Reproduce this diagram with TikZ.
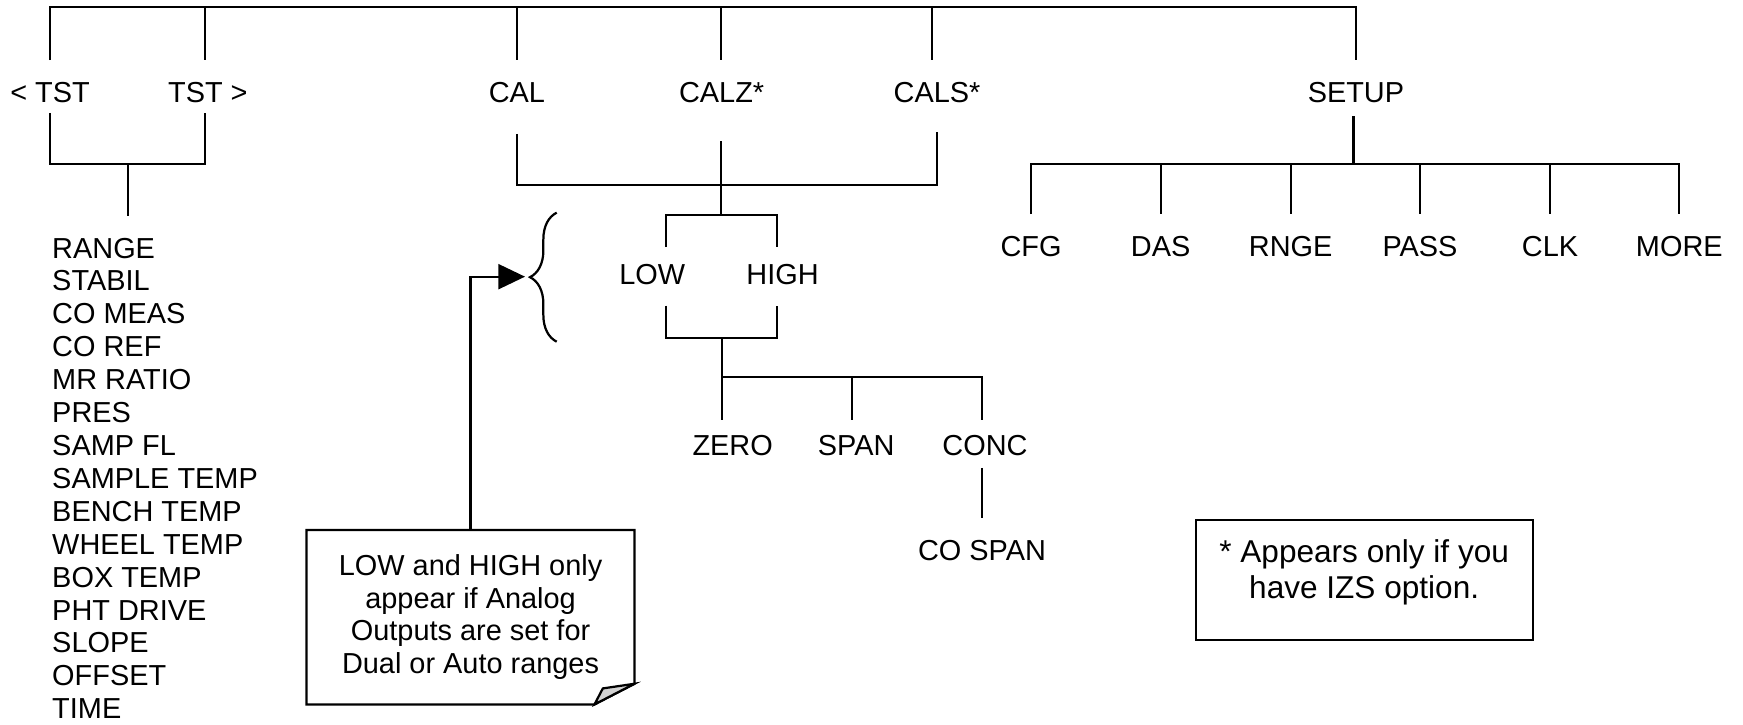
\documentclass[tikz,border=0pt]{standalone}
\usepackage{fontspec}
\setmainfont{Liberation Sans}
\usetikzlibrary{arrows.meta,decorations.pathreplacing}

\tikzset{
  lbl/.style={font=\fontsize{13}{15.6}\selectfont, text height=9.3pt, text depth=0pt,
    inner xsep=0pt, inner ysep=9.25pt},
  menulist/.style={font=\fontsize{13}{14.8}\selectfont, align=left, anchor=north west,
    inner xsep=0pt, inner ysep=9.25pt},
  notetext/.style={font=\fontsize{13}{14.7}\selectfont, align=center, inner sep=0pt},
  izstext/.style={font=\fontsize{14.2}{16.25}\selectfont, align=center, inner sep=0pt}
}

\begin{document}
\begin{tikzpicture}[x=0.5pt, y=-0.5pt, line width=1pt]
    \useasboundingbox (0,0) rectangle (1568,652);
    % first row
    \node[lbl] (ltst) at (45,83) {< TST};
    \node[lbl] (rtst) at (187,83) {TST >};
    \node[lbl] (cal) at (465,83) {CAL};
    \node[lbl] (calz) at (649.2,83) {CALZ*};
    \node[lbl] (cals) at (843,83) {CALS*};
    \node[lbl] (setup) at (1219.8,83) {SETUP};
    % top bus
    \coordinate (b1) at (45,6.6);
    \coordinate (b2) at (184.4,6.6);
    \coordinate (b3) at (464.8,6.6);
    \coordinate (b4) at (648.3,6.6);
    \coordinate (b5) at (838.1,6.6);
    \coordinate (b6) at (1219.9,6.6);
    \draw (b1 |- ltst.north) -- (b1) -- (b6) -- (b6 |- setup.north);
    \foreach \b/\n in {b2/rtst,b3/cal,b4/calz,b5/cals}
        \draw (\b) -- (\b |- \n.north);

    % TST branch
    \coordinate (tj) at (114.9,147.5);
    \draw ([yshift=5.1pt]b1 |- ltst.south) |- (tj) -| ([yshift=5.1pt]b2 |- rtst.south);
    \node[menulist] (tstlist) at (46,194.5) {RANGE\\STABIL\\CO MEAS\\CO REF\\MR RATIO\\PRES\\SAMP FL\\SAMPLE TEMP\\BENCH TEMP\\WHEEL TEMP\\BOX TEMP\\PHT DRIVE\\SLOPE\\OFFSET\\TIME};
    \draw (tj) -- (tj |- tstlist.north);

    % CAL branch
    \coordinate (cj) at (648.3,166.4);
    \coordinate (lj) at (648.3,193.4);
    \draw ([yshift=-4.3pt]cal.south) |- (cj) -| ([yshift=-3.4pt]cals.south);
    \draw ([yshift=-7.6pt]lj |- calz.south) -- (lj);
    \node[lbl] (low) at (586.7,246.2) {LOW};
    \node[lbl] (high) at (704,246.2) {HIGH};
    \coordinate (lwx) at (598.8,193.4);
    \coordinate (hgx) at (699.2,193.4);
    \draw ([yshift=-2.5pt]lwx |- low.north) -- (lwx) -- (hgx) -- ([yshift=-2.5pt]hgx |- high.north);
    \coordinate (lj2) at (649.2,303.8);
    \draw (lwx |- low.south) |- (lj2) -| (hgx |- high.south);
    % ZERO / SPAN / CONC
    \node[lbl] (zero) at (659.1,400.8) {ZERO};
    \node[lbl] (span) at (770.2,400.8) {SPAN};
    \node[lbl] (conc) at (886.1,400.8) {CONC};
    \node[lbl] (cospan) at (883.4,494.5) {CO SPAN};
    \coordinate (zj) at (649.2,339);
    \coordinate (sj) at (766.2,339);
    \coordinate (kj) at (883.1,339);
    \draw (lj2) -- ([yshift=-2.7pt]lj2 |- zero.north);
    \draw (zj) -- (kj) -- ([yshift=-2.7pt]kj |- conc.north);
    \draw (sj) -- ([yshift=-2.7pt]sj |- span.north);
    \draw ([yshift=4.4pt]kj |- conc.south) -- (kj |- cospan.north);

    % SETUP branch
    \coordinate (sb) at (1217.5,147.5);
    \draw ([yshift=3.6pt]sb |- setup.south) -- (sb);
    \foreach \x/\n/\t in {927.5/cfg/CFG, 1044.1/das/DAS, 1161.1/rnge/RNGE, 1277.4/pass/PASS, 1394.4/clk/CLK, 1510.7/more/MORE} {
        \coordinate (s\n) at (\x,147.5);
        \node[lbl] (\n) at (\x,221.5) {\t};
    }
    \draw (scfg |- cfg.north) -- (scfg) -- (smore) -- (smore |- more.north);
    \foreach \n in {das,rnge,pass,clk}
        \draw (s\n) -- (s\n |- \n.north);

    % brace and note
    \draw[decorate, decoration={brace, amplitude=12pt}] (500.8,307.4) -- (500.8,191.3);
    \coordinate (bracetip) at (472.3,248.9);
    \node[notetext, minimum width=146.5pt, minimum height=77.5pt] (notebox) at (423.3,555.2)
        {LOW and HIGH only\\appear if Analog\\Outputs are set for\\Dual or Auto ranges};
    \draw (notebox.north west) -- (notebox.north east) -- ([yshift=9.3pt]notebox.south east)
        -- ([xshift=-18pt]notebox.south east) -- (notebox.south west) -- cycle;
    \filldraw[fill=gray!35] ([yshift=9.3pt]notebox.south east) -- ([xshift=-14.25pt,yshift=7.2pt]notebox.south east)
        -- ([xshift=-18pt]notebox.south east) -- cycle;
    \draw[-{Triangle[length=12pt,width=11.25pt]}] (notebox.north) |- (bracetip);

    % IZS note
    \node[draw, minimum width=151.5pt, minimum height=54pt, inner sep=0pt] (izsbox) at (1227.5,522) {};
    \node[izstext] (izs) at (1227.2,515.2) {* Appears only if you\\have IZS option.};
\end{tikzpicture}
\end{document}
